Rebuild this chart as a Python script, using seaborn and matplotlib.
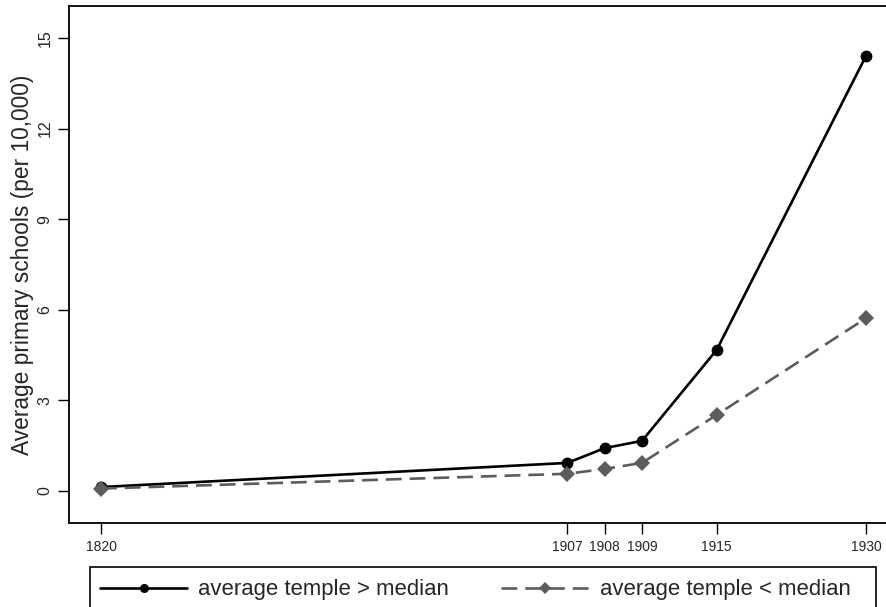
import matplotlib.pyplot as plt
from matplotlib.patches import Rectangle
import pandas as pd
import seaborn as sns

# data
years = [1820, 1907, 1908, 1909, 1915, 1930]
# custom spacing of the year axis (1 unit = one year between 1907 and 1909)
x_pos = [0, 12.5, 13.5, 14.5, 16.5, 20.5]
above_median = [0.13, 0.93, 1.42, 1.66, 4.67, 14.4]
below_median = [0.08, 0.57, 0.73, 0.93, 2.52, 5.72]
label_above = 'average temple > median'
label_below = 'average temple < median'

df = pd.DataFrame({'year': years, 'pos': x_pos,
                   'above': above_median, 'below': below_median})

sns.set_style('white')
plt.rcParams['font.family'] = ['Liberation Sans', 'DejaVu Sans']

fig = plt.figure(figsize=(8.86, 6.07), dpi=100)
ax = fig.add_axes([69 / 886, 84 / 607, 823 / 886, 517 / 607])

sns.lineplot(data=df, x='pos', y='above', ax=ax, color='black', lw=1.9,
             marker='o', markersize=8.5, markeredgewidth=0, label=label_above)
sns.lineplot(data=df, x='pos', y='below', ax=ax, color='#5c5c5c', lw=1.9,
             linestyle=(0, (6, 3)), marker='D', markersize=8.5,
             markeredgewidth=0, label=label_below)

ax.set_xlim(-0.858, 21.2)
ax.set_ylim(-1.06, 16.06)
ax.set_xticks(x_pos)
ax.set_xticklabels(years, fontsize=10)
ax.set_yticks([0, 3, 6, 9, 12, 15])
ax.set_yticklabels(['0', '3', '6', '9', '12', '15'], fontsize=11.5,
                   rotation=90, va='center')
ax.set_xlabel('')
ax.set_ylabel('Average primary schools (per 10,000)', fontsize=16.4, labelpad=2.5)
ax.tick_params(axis='both', direction='out', length=8, width=1,
               color='black', bottom=True, left=True, pad=4)
for side in ['left', 'bottom', 'top']:
    ax.spines[side].set_color('black')
    ax.spines[side].set_linewidth(1.3)
ax.spines['right'].set_visible(False)

handles, labels = ax.get_legend_handles_labels()
ax.get_legend().remove()
leg = fig.legend(handles, labels, loc='upper left', ncol=2,
                 bbox_to_anchor=(91.2 / 886, 1 - 570.5 / 607),
                 fontsize=15.9, frameon=False, borderpad=0.4,
                 borderaxespad=0, handlelength=3.95, handletextpad=0.5,
                 columnspacing=2.36)
for h in leg.legend_handles:
    h.set_markersize(6.5)

# legend frame (cut by the bottom edge as in the reference)
fig.patches.append(Rectangle((90 / 886, -0.05), 786 / 886, 0.05 + 40.5 / 607,
                             transform=fig.transFigure, fill=False,
                             edgecolor='black', linewidth=1.2))

fig.savefig('out.png', dpi=100)
